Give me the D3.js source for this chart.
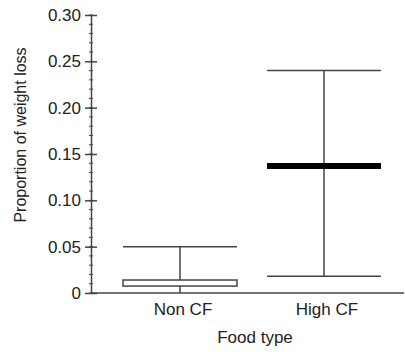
<!DOCTYPE html>
<html>
<head>
<meta charset="utf-8">
<script src="https://cdn.jsdelivr.net/npm/d3@7"></script>
<style>
  body { margin: 0; background: #fff; }
  text { font-family: "Liberation Sans", Arial, sans-serif; fill: #222; }
</style>
</head>
<body>
<svg id="chart" width="405" height="352"></svg>
<script>
// food type groups and their box/whisker summaries
var categories = ["Non CF", "High CF"];
var minVals    = [0, 0.018];
var q1Vals     = [0.0075, 0.137];
var medianVals = [null, 0.137];
var q3Vals     = [0.014, 0.137];
var maxVals    = [0.05, 0.24];

var yTicks = [0, 0.05, 0.10, 0.15, 0.20, 0.25, 0.30];
var yMinorTicks = d3.range(0, 0.301, 0.01);

// plot frame (don't use "top" as a global name, it clashes with window.top)
var plotLeft = 91, plotRight = 404, plotTop = 15, plotBottom = 293;
var lineColor = "#444";
var fontSize = "17px";

var svg = d3.select("#chart");

var y = d3.scaleLinear().domain([0, 0.3]).range([plotBottom, plotTop]);
var x = d3.scalePoint().domain(categories).range([plotLeft, 413]).padding(0.618);
var halfW = 57;

// minor ticks, crossing the axis
svg.append("g").selectAll("line")
	.data(yMinorTicks)
	.enter()
	.append("line")
	.attr("x1", plotLeft - 2).attr("x2", plotLeft + 2)
	.attr("y1", d => y(d)).attr("y2", d => y(d))
	.style("stroke", lineColor).style("stroke-width", 1);

// y axis (major ticks cross the axis too)
var yAxis = d3.axisLeft(y)
	.tickValues(yTicks)
	.tickSizeInner(6)
	.tickSizeOuter(0)
	.tickPadding(4)
	.tickFormat(d => d === 0 ? "0" : d3.format(".2f")(d));

var yg = svg.append("g").attr("transform", "translate(" + plotLeft + ",0)").call(yAxis);
yg.select(".domain").style("stroke", lineColor).style("stroke-width", 1.5);
yg.selectAll(".tick line").attr("x1", 6).style("stroke", lineColor).style("stroke-width", 1.5);
yg.selectAll(".tick text").style("font-size", fontSize).style("fill", "#222")
	.style("font-family", "'Liberation Sans', Arial, sans-serif");

// x axis line, no ticks
svg.append("line")
	.attr("x1", plotLeft).attr("x2", plotRight)
	.attr("y1", plotBottom).attr("y2", plotBottom)
	.style("stroke", lineColor).style("stroke-width", 1.5);

var data = categories.map(function(c, i){
	return { cat: c, min: minVals[i], q1: q1Vals[i], med: medianVals[i], q3: q3Vals[i], max: maxVals[i] };
});

var box = svg.selectAll(".box")
	.data(data)
	.enter()
	.append("g")
	.attr("class", "box");

// whisker stem
box.append("line")
	.attr("x1", d => x(d.cat)).attr("x2", d => x(d.cat))
	.attr("y1", d => y(d.min)).attr("y2", d => y(d.max))
	.style("stroke", lineColor).style("stroke-width", 1.5);

// caps
box.append("line")
	.attr("x1", d => x(d.cat) - halfW).attr("x2", d => x(d.cat) + halfW)
	.attr("y1", d => y(d.max)).attr("y2", d => y(d.max))
	.style("stroke", lineColor).style("stroke-width", 1.5);

box.filter(d => d.min > 0).append("line")
	.attr("x1", d => x(d.cat) - halfW).attr("x2", d => x(d.cat) + halfW)
	.attr("y1", d => y(d.min)).attr("y2", d => y(d.min))
	.style("stroke", lineColor).style("stroke-width", 1.5);

// box
box.filter(d => d.q3 > d.q1).append("rect")
	.attr("x", d => x(d.cat) - halfW)
	.attr("width", halfW * 2)
	.attr("y", d => y(d.q3))
	.attr("height", d => y(d.q1) - y(d.q3))
	.style("fill", "#fff")
	.style("stroke", lineColor).style("stroke-width", 1.5);

// median bar
box.filter(d => d.med != null).append("line")
	.attr("x1", d => x(d.cat) - halfW).attr("x2", d => x(d.cat) + halfW)
	.attr("y1", d => y(d.med)).attr("y2", d => y(d.med))
	.style("stroke", "#000").style("stroke-width", 6);

// category labels
svg.selectAll(".catlab")
	.data(categories)
	.enter()
	.append("text")
	.attr("class", "catlab")
	.attr("x", d => x(d) + 3)
	.attr("y", 315)
	.attr("text-anchor", "middle")
	.style("font-size", fontSize)
	.text(d => d);

svg.append("text")
	.attr("x", 255).attr("y", 343)
	.attr("text-anchor", "middle")
	.style("font-size", fontSize)
	.text("Food type");

svg.append("text")
	.attr("transform", "translate(26,135) rotate(-90)")
	.attr("text-anchor", "middle")
	.style("font-size", "16px")
	.text("Proportion of weight loss");
</script>
</body>
</html>
